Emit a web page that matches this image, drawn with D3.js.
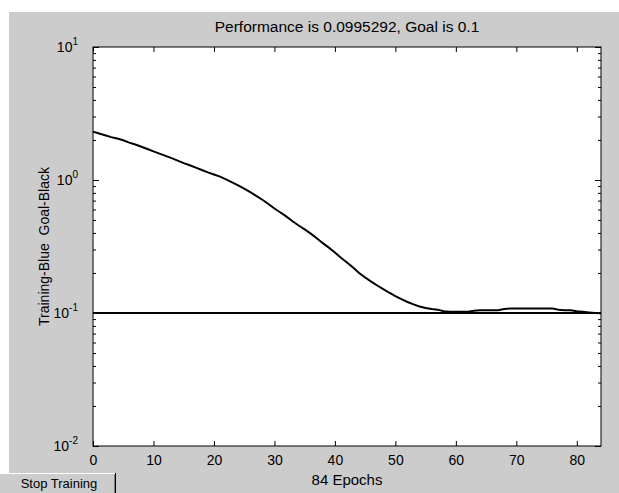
<!DOCTYPE html>
<html>
<head>
<meta charset="utf-8">
<script src="https://cdn.jsdelivr.net/npm/d3@7"></script>
<style>
  body { margin: 0; background: #fff; }
  text { font-family: "Liberation Sans", Arial, sans-serif; fill: #000; }
</style>
</head>
<body>
<script>
// training performance per epoch
const epochs = d3.range(0, 85);
const perf = [
  2.31, 2.24, 2.17, 2.10, 2.05, 1.99, 1.91, 1.85, 1.78, 1.71,
  1.64, 1.58, 1.52, 1.46, 1.40, 1.34, 1.29, 1.24, 1.19, 1.14,
  1.10, 1.06, 1.01, 0.96, 0.91, 0.86, 0.81, 0.76, 0.71, 0.66,
  0.61, 0.57, 0.53, 0.49, 0.455, 0.425, 0.395, 0.365, 0.335, 0.31,
  0.285, 0.26, 0.24, 0.22, 0.20, 0.185, 0.172, 0.161, 0.151, 0.142,
  0.134, 0.127, 0.121, 0.116, 0.112, 0.109, 0.107, 0.106, 0.103, 0.102,
  0.102, 0.102, 0.102, 0.104, 0.105, 0.105, 0.105, 0.105, 0.107, 0.108,
  0.108, 0.108, 0.108, 0.108, 0.108, 0.108, 0.108, 0.106, 0.105, 0.105,
  0.103, 0.102, 0.101, 0.100, 0.0995
];
const goal = 0.1;
const goalX = [0, 84];

const xTicks = [0, 10, 20, 30, 40, 50, 60, 70, 80];
const yMajor = [0.01, 0.1, 1, 10];
const yExp = ["-2", "-1", "0", "1"];
const yMinor = [2,3,4,5,6,7,8,9].flatMap(m => [0.01*m, 0.1*m, 1*m]);

const W = 619, H = 493;
const L = 93, R = 601, T = 47, B = 446;

const svg = d3.select("body").append("svg").attr("width", W).attr("height", H);

svg.append("rect").attr("x", 9).attr("y", 12).attr("width", W - 9).attr("height", H - 12)
  .attr("fill", "#cccccc");

const x = d3.scaleLinear().domain([0, 84]).range([L, R]);
const y = d3.scaleLog().domain([0.01, 10]).range([B, T]);

svg.append("rect").attr("x", L).attr("y", T).attr("width", R - L).attr("height", B - T)
  .attr("fill", "#fff");

// axes, ticks pointing inward
const bottom = svg.append("g").attr("transform", `translate(0,${B})`)
  .call(d3.axisBottom(x).tickValues(xTicks).tickSize(-5).tickPadding(9).tickFormat(d3.format("d")));
svg.append("g").attr("transform", `translate(0,${T})`)
  .call(d3.axisTop(x).tickValues(xTicks).tickSize(-5).tickFormat(""));

svg.append("g").attr("transform", `translate(${L},0)`)
  .call(d3.axisLeft(y).tickValues(yMajor).tickSize(-6).tickFormat(""));
svg.append("g").attr("transform", `translate(${L},0)`)
  .call(d3.axisLeft(y).tickValues(yMinor).tickSize(-3).tickFormat(""));
svg.append("g").attr("transform", `translate(${R},0)`)
  .call(d3.axisRight(y).tickValues(yMajor).tickSize(-6).tickFormat(""));
svg.append("g").attr("transform", `translate(${R},0)`)
  .call(d3.axisRight(y).tickValues(yMinor).tickSize(-3).tickFormat(""));

svg.selectAll(".domain").remove();
svg.selectAll(".tick line").attr("stroke", "#000");
bottom.selectAll("text").attr("font-size", 14).attr("font-family", "Liberation Sans, Arial, sans-serif");

// 10^n labels
yMajor.forEach((v, i) => {
  const t = svg.append("text").attr("x", 78).attr("y", y(v) + 5)
    .attr("text-anchor", "end").attr("font-size", 14);
  t.append("tspan").text("10");
  t.append("tspan").attr("font-size", 10).attr("dy", -7).text(yExp[i]);
});

// frame
svg.append("rect").attr("x", L).attr("y", T).attr("width", R - L).attr("height", B - T)
  .attr("fill", "none").attr("stroke", "#000").attr("stroke-width", 1);

// goal line
svg.append("path")
  .datum(goalX)
  .attr("d", d3.line().x(d => x(d)).y(() => y(goal)))
  .attr("fill", "none").attr("stroke", "#000").attr("stroke-width", 2);

// training curve
svg.append("path")
  .datum(epochs)
  .attr("d", d3.line().x(d => x(d)).y(d => y(perf[d])))
  .attr("fill", "none").attr("stroke", "#000").attr("stroke-width", 2);

// texts
svg.append("text").attr("x", (L + R) / 2).attr("y", 32).attr("text-anchor", "middle")
  .attr("font-size", 15.5).text("Performance is 0.0995292, Goal is 0.1");
svg.append("text").attr("x", (L + R) / 2).attr("y", 485).attr("text-anchor", "middle")
  .attr("font-size", 15).text("84 Epochs");
svg.append("text").attr("transform", `translate(49,${(T + B) / 2}) rotate(-90)`)
  .attr("text-anchor", "middle").attr("font-size", 14)
  .style("white-space", "pre").text("Training-Blue  Goal-Black");

// button
const btn = svg.append("g");
btn.append("rect").attr("x", 0).attr("y", 473).attr("width", 116).attr("height", 20).attr("fill", "#cccccc");
btn.append("line").attr("x1", 0).attr("x2", 115).attr("y1", 473.5).attr("y2", 473.5).attr("stroke", "#fff");
btn.append("line").attr("x1", 115.5).attr("x2", 115.5).attr("y1", 473).attr("y2", 493).attr("stroke", "#000");
btn.append("line").attr("x1", 114.5).attr("x2", 114.5).attr("y1", 474).attr("y2", 493).attr("stroke", "#808080");
btn.append("text").attr("x", 59).attr("y", 488).attr("text-anchor", "middle")
  .attr("font-size", 13).text("Stop Training");
</script>
</body>
</html>
